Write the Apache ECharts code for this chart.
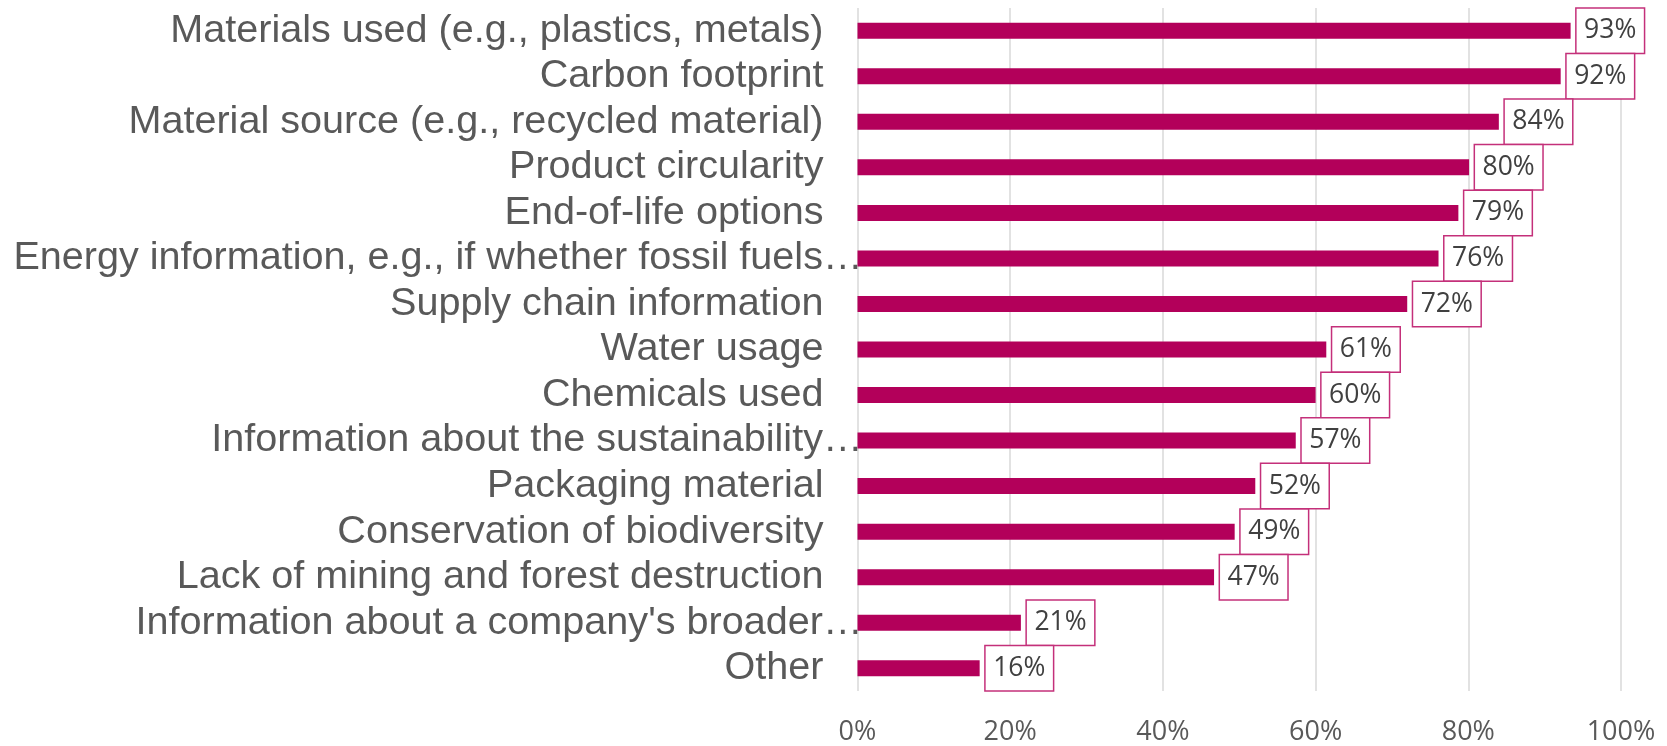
<!DOCTYPE html>
<html>
<head>
<meta charset="utf-8">
<script src="https://cdn.jsdelivr.net/npm/echarts@6/dist/echarts.min.js"></script>
<style>
html,body{margin:0;padding:0;background:#fff;}
#chart{width:1667px;height:746px;}
</style>
</head>
<body>
<div id="chart"></div>
<script>
const categories = [
  "Materials used (e.g., plastics, metals)",
  "Carbon footprint",
  "Material source (e.g., recycled material)",
  "Product circularity",
  "End-of-life options",
  "Energy information, e.g., if whether fossil fuels\u2026",
  "Supply chain information",
  "Water usage",
  "Chemicals used",
  "Information about the sustainability\u2026",
  "Packaging material",
  "Conservation of biodiversity",
  "Lack of mining and forest destruction",
  "Information about a company's broader\u2026",
  "Other"
];
const values = [93.4, 92.1, 84.0, 80.1, 78.7, 76.1, 72.0, 61.4, 60.0, 57.4, 52.1, 49.4, 46.7, 21.4, 16.0];
const xTicks = [0, 20, 40, 60, 80, 100];

const chart = echarts.init(document.getElementById('chart'));
chart.setOption({
  animation: false,
  grid: { left: 857.5, right: 46, top: 8, bottom: 53, containLabel: false },
  xAxis: {
    type: 'value', min: 0, max: 100, interval: 20,
    axisLine: { show: false }, axisTick: { show: false },
    splitLine: { show: true, lineStyle: { color: '#d9d9d9', width: 1.5 } },
    axisLabel: {
      margin: 28, fontSize: 27, fontFamily: 'Open Sans', color: '#595959',
      formatter: v => xTicks.includes(v) ? v + '%' : ''
    }
  },
  yAxis: {
    type: 'category', data: categories, inverse: true,
    axisLine: { show: false }, axisTick: { show: false },
    axisLabel: {
      interval: 0,
      margin: -5, fontSize: 39.6, fontFamily: 'Liberation Sans', color: '#595959',
      formatter: v => v.endsWith('\u2026') ? '{t|' + v + '}' : '{n|' + v + '}',
      rich: {
        t: { fontSize: 39.6, fontFamily: 'Liberation Sans', color: '#595959' },
        n: { fontSize: 39.6, fontFamily: 'Liberation Sans', color: '#595959', padding: [0, 39, 0, 0] }
      }
    }
  },
  series: [{
    type: 'bar', data: values, barWidth: 16,
    itemStyle: { color: '#b3005a' },
    label: {
      show: true, position: 'right', distance: 6,
      formatter: p => Math.round(p.value) + '%',
      fontSize: 26.5, fontFamily: 'Open Sans', color: '#404040', lineHeight: 28,
      backgroundColor: '#ffffff', borderColor: '#c4307a', borderWidth: 1.5,
      padding: [8, 7.5, 8, 7.5]
    }
  }]
});
</script>
</body>
</html>
